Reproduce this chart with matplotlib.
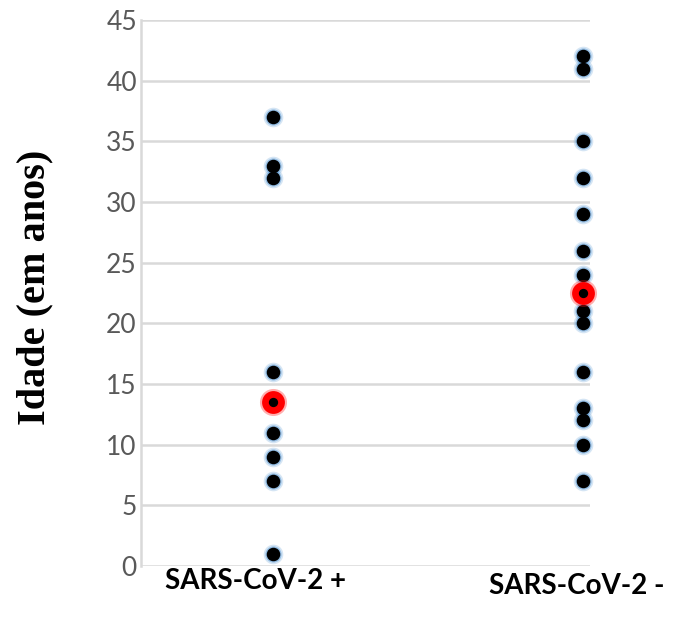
import matplotlib

matplotlib.use("Agg")
import matplotlib.pyplot as plt
import numpy as np

# ages (years)
categories = ["SARS-CoV-2 +", "SARS-CoV-2 -"]
ages_pos = [37, 33, 32, 16, 11, 9, 7, 1]
ages_neg = [42, 41, 35, 32, 29, 26, 24, 21, 20, 16, 13, 12, 10, 7]
y_ticks = [0, 5, 10, 15, 20, 25, 30, 35, 40, 45]

GRID = "#d9d9d9"
TICK = "#595959"
GLOW = "#5b9bd5"

fig = plt.figure(figsize=(6.75, 6.19), dpi=100)
ax = fig.add_axes([141 / 675, 1 - 566 / 619, (590 - 141) / 675, (566 - 20) / 619])

groups = [ages_pos, ages_neg]
for i, ages in enumerate(groups):
    x = np.full(len(ages), i)
    # soft blue halo behind each black point
    ax.scatter(x, ages, s=200, color=GLOW, alpha=0.25, lw=0, zorder=3, clip_on=False)
    ax.scatter(x, ages, s=135, color=GLOW, alpha=0.55, lw=0, zorder=3, clip_on=False)
    ax.scatter(x, ages, s=95, color="black", lw=0, zorder=4, clip_on=False)
    med = np.median(ages)
    ax.scatter([i], [med], s=380, color="#ff1a1a", alpha=0.35, lw=0, zorder=5, clip_on=False)
    ax.scatter([i], [med], s=270, color="#ff0000", lw=0, zorder=5, clip_on=False)
    ax.scatter([i], [med], s=45, color="black", lw=0, zorder=6, clip_on=False)

ax.set_ylim(0, 45)
ax.set_xlim(-0.426, 1.023)
ax.set_yticks(y_ticks)
ax.set_xticks([])
ax.yaxis.grid(True, color=GRID, lw=1.8)
ax.set_axisbelow(True)
ax.tick_params(axis="y", length=0, pad=3, labelsize=19, labelcolor=TICK)
for lab in ax.get_yticklabels():
    lab.set_family("Lato")

for side in ("top", "right", "bottom"):
    ax.spines[side].set_visible(False)
ax.spines["left"].set_color(GRID)
ax.spines["left"].set_linewidth(1.8)

ax.set_ylabel("Idade (em anos)", family="Liberation Serif", fontweight="bold",
              fontsize=29, labelpad=0)
ax.yaxis.set_label_coords(-0.195, 0.51)

label_x = [-0.055, 0.98]
label_y = [-0.027, -0.036]
for lx, ly, name in zip(label_x, label_y, categories):
    ax.text(lx, ly, name, transform=ax.get_xaxis_transform(), ha="center", va="center",
            family="Lato", fontweight="bold", fontsize=20, color="black")

fig.savefig("out.png", dpi=100)
